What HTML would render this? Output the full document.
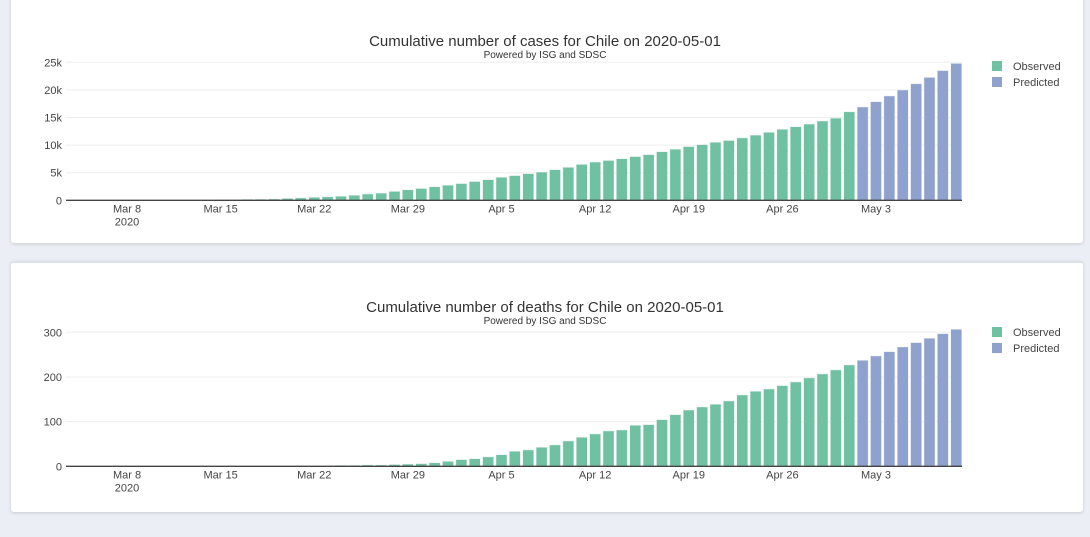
<!DOCTYPE html>
<html><head><meta charset="utf-8"><style>
html,body{margin:0;padding:0;width:1090px;height:537px;overflow:hidden;background:#ebeef5;font-family:"Liberation Sans",Arial,sans-serif}
.card{position:absolute;left:11px;width:1072px;background:#fff;border-radius:3px;box-shadow:0 1px 3px rgba(0,0,0,0.15)}
svg{position:absolute;left:0;top:0}
</style></head><body>
<div class="card" style="top:-5px;height:248px"></div>
<div class="card" style="top:261px;height:249px;border-top:2px solid #dde1e8"></div>
<svg id="s" width="1090" height="537" font-family="Liberation Sans, Arial, sans-serif"></svg>
<script>
const cases=[1,3,4,5,7,10,13,17,23,33,43,61,75,155,201,238,342,434,537,632,746,922,1142,1306,1610,1909,2139,2449,2738,3031,3404,3737,4161,4471,4815,5116,5546,5972,6501,6927,7213,7525,7917,8273,8807,9252,9730,10088,10507,10832,11296,11812,12306,12858,13331,13813,14365,14885,16025];
const casesPred=[16900,17860,18900,19980,21100,22260,23500,24800];
const deaths=[];
for(let i=0;i<17;i++)deaths.push(0);
deaths.push(1,1,1,2,2,3,3,4,5,6,8,11,15,17,21,26,33.6,36.6);
deaths.push(42.5,47.8,56.7,64.9,72.4,79.1,81.3,91.8,93.3,104.5,115.7,126,132.8,138.8,146.3,159.7,167.9,173,180.6,188.8,197.8,206.7,215.7,226.9);
const deathsPred=[237.3,247,256.7,267.2,276.9,286.6,297,306.7];
const s=document.getElementById('s');let h='';
function X(d){return 127+13.375*d;}
function chart(obs,pred,y0,pxPer,ticks,tickFmt,title,ty){
  h+=`<text x="545" y="${ty}" text-anchor="middle" font-size="15" fill="#333">${title}</text>`;
  h+=`<text x="545" y="${ty+12}" text-anchor="middle" font-size="10" fill="#333">Powered by ISG and SDSC</text>`;
  ticks.forEach(t=>{const y=y0-t*pxPer;
    if(t>0)h+=`<line x1="66" x2="962" y1="${y}" y2="${y}" stroke="#eee" stroke-width="1"/>`;
    h+=`<text x="62" y="${y+4}" text-anchor="end" font-size="11" fill="#444">${tickFmt(t)}</text>`;});
  const all=obs.concat(pred);
  all.forEach((v,i)=>{const d=i-4;const x=X(d)-5.5;const hh=v*pxPer;
    const c=i<obs.length?'#6fc1a2':'#8fa1cd';
    if(hh>0.3)h+=`<rect x="${x}" y="${y0-hh}" width="11" height="${hh}" fill="${c}" stroke="#e8f0f0" stroke-width="0.5"/>`;});
  h+=`<line x1="66" x2="962" y1="${y0}" y2="${y0}" stroke="#444" stroke-width="1.3"/>`;
  [["Mar 8",0],["Mar 15",7],["Mar 22",14],["Mar 29",21],["Apr 5",28],["Apr 12",35],["Apr 19",42],["Apr 26",49],["May 3",56]].forEach(([l,d])=>{
    h+=`<text x="${X(d)}" y="${y0+12}" text-anchor="middle" font-size="11" fill="#444">${l}</text>`;});
  h+=`<text x="${X(0)}" y="${y0+25}" text-anchor="middle" font-size="11" fill="#444">2020</text>`;
  const ly=ty+15;
  h+=`<rect x="992" y="${ly}" width="10" height="10" fill="#6fc1a2"/><text x="1013" y="${ly+9}" font-size="11" fill="#444">Observed</text>`;
  h+=`<rect x="992" y="${ly+16}" width="10" height="10" fill="#8fa1cd"/><text x="1013" y="${ly+25}" font-size="11" fill="#444">Predicted</text>`;
}
chart(cases,casesPred,200.3,138/25000,[0,5000,10000,15000,20000,25000],t=>t==0?'0':(t/1000)+'k',"Cumulative number of cases for Chile on 2020-05-01",46);
chart(deaths,deathsPred,466.3,134/300,[0,100,200,300],t=>''+t,"Cumulative number of deaths for Chile on 2020-05-01",312);
s.innerHTML=h;
</script>
</body></html>
